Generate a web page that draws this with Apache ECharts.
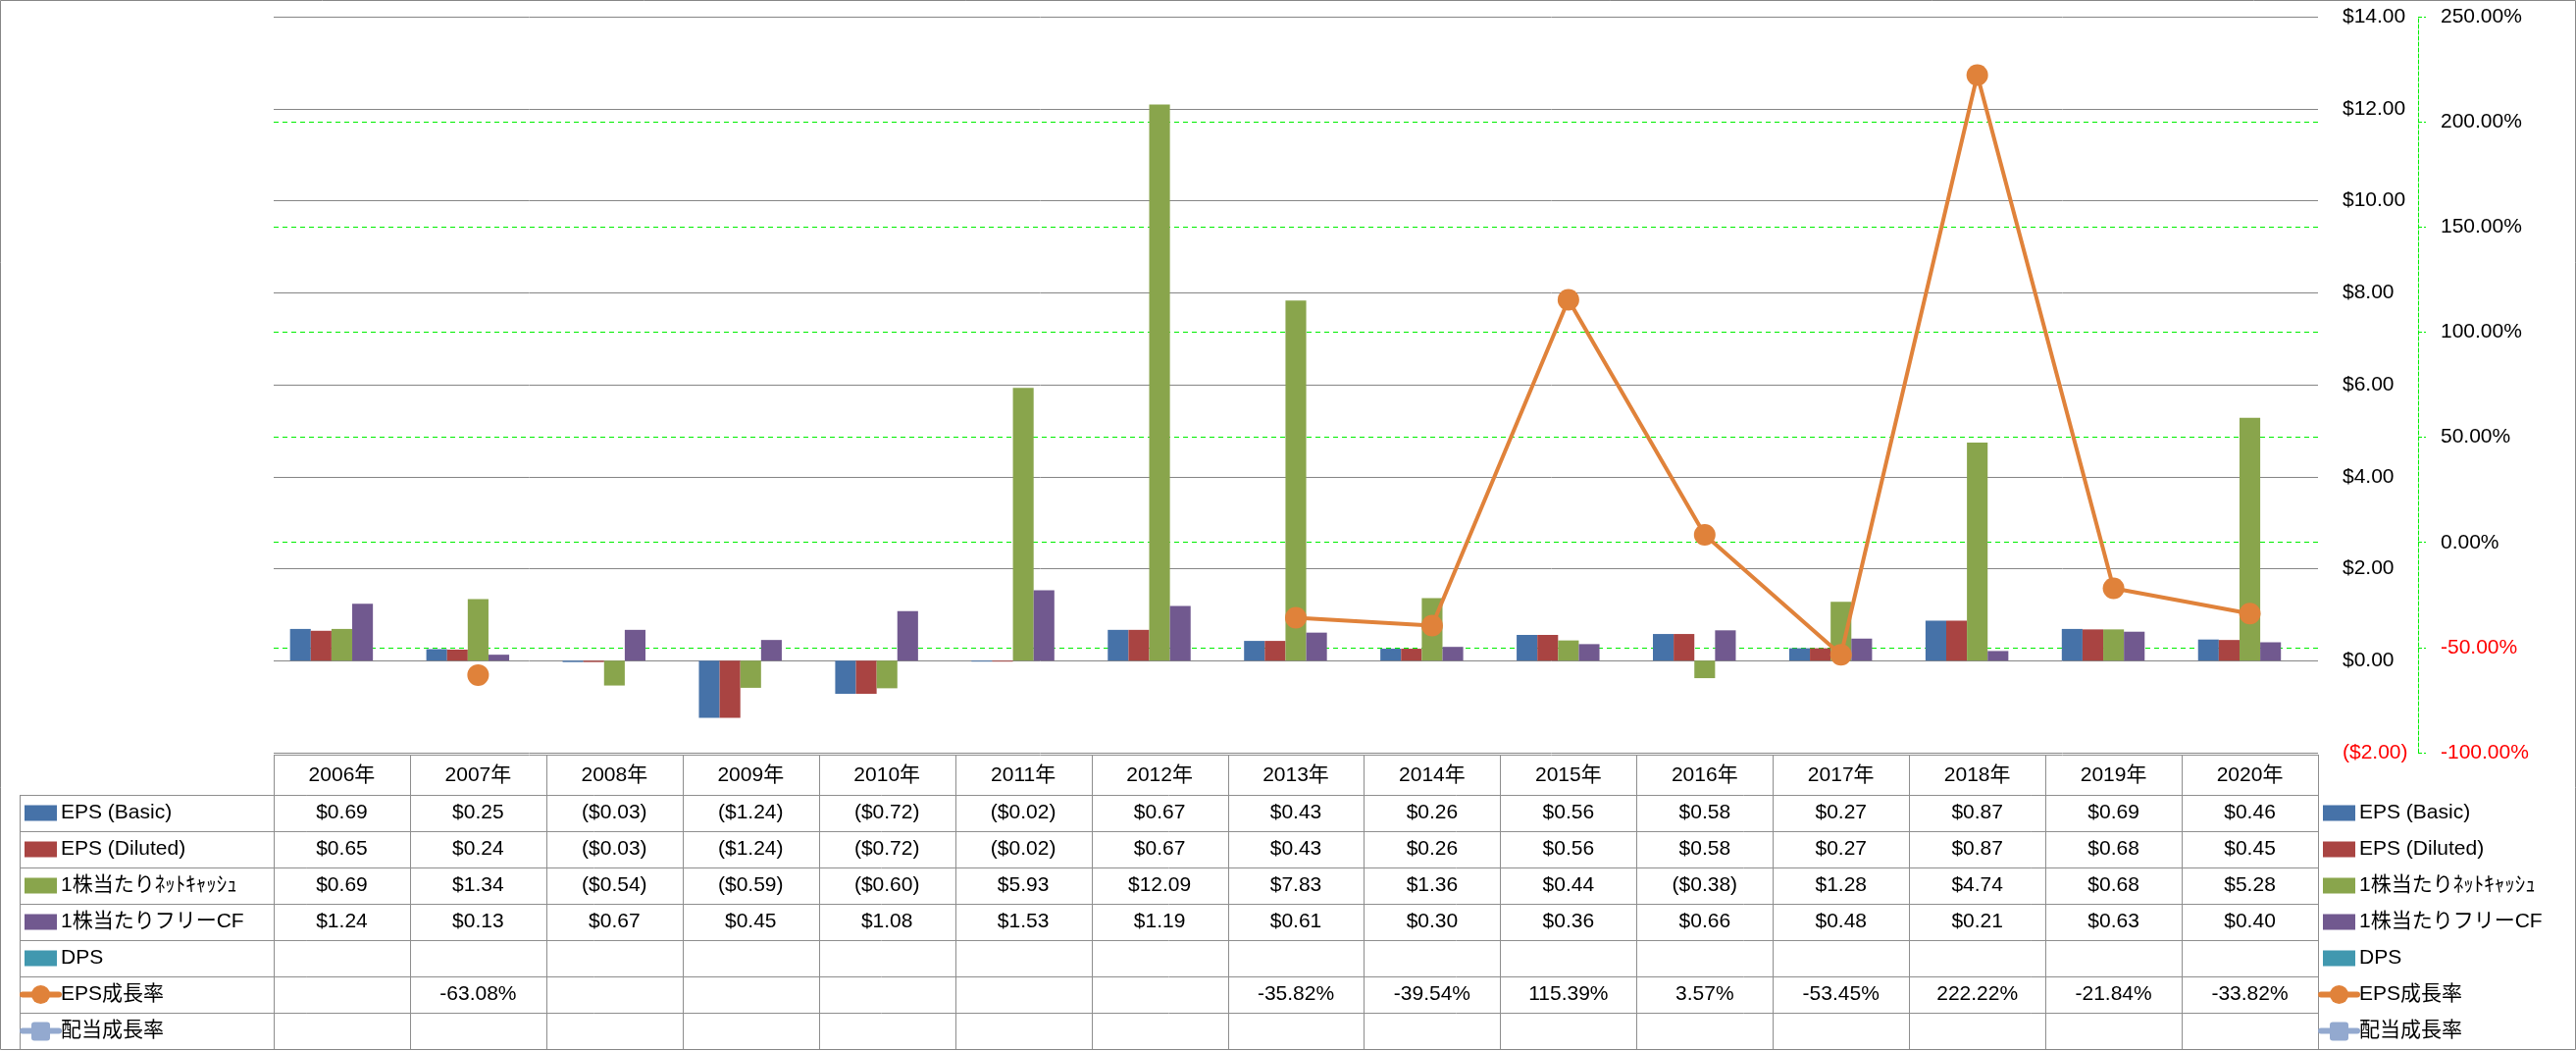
<!DOCTYPE html>
<html><head><meta charset="utf-8">
<script src="https://cdn.jsdelivr.net/npm/echarts@6/dist/echarts.min.js"></script>
<style>html,body{margin:0;padding:0;background:#fff}#c{width:2626px;height:1071px}</style>
</head><body><div id="c"></div>
<script>
const years = ['2006年','2007年','2008年','2009年','2010年','2011年','2012年','2013年','2014年','2015年','2016年','2017年','2018年','2019年','2020年'];
const epsBasic   = [0.69,0.25,-0.03,-1.24,-0.72,-0.02,0.67,0.43,0.26,0.56,0.58,0.27,0.87,0.69,0.46];
const epsDiluted = [0.65,0.24,-0.03,-1.24,-0.72,-0.02,0.67,0.43,0.26,0.56,0.58,0.27,0.87,0.68,0.45];
const netCash    = [0.69,1.34,-0.54,-0.59,-0.60,5.93,12.09,7.83,1.36,0.44,-0.38,1.28,4.74,0.68,5.28];
const freeCF     = [1.24,0.13,0.67,0.45,1.08,1.53,1.19,0.61,0.30,0.36,0.66,0.48,0.21,0.63,0.40];
const dps        = [null,null,null,null,null,null,null,null,null,null,null,null,null,null,null];
const epsGrowth  = [null,-63.08,null,null,null,null,null,-35.82,-39.54,115.39,3.57,-53.45,222.22,-21.84,-33.82];
const divGrowth  = [null,null,null,null,null,null,null,null,null,null,null,null,null,null,null];
const seriesNames = ['EPS (Basic)','EPS (Diluted)','1株当たりﾈｯﾄｷｬｯｼｭ','1株当たりフリーCF','DPS','EPS成長率','配当成長率'];
const dollarAxis = {min:-2, max:14, interval:2};
const pctAxis = {min:-100, max:250, interval:50};

const colors = ['#4672A8','#A94442','#89A54C','#71598F','#4198AF','#E0823A','#93A9CF'];
const FONT = "'Liberation Sans','Noto Sans CJK JP',sans-serif";
const FS = 21;
const GRID = {left:279, right:263, top:17, bottom:304};

const fmtDollar = v => v == null ? '' : (v < 0 ? '($' + Math.abs(v).toFixed(2) + ')' : '$' + v.toFixed(2));
const fmtPct = v => v == null ? '' : v.toFixed(2) + '%';

const chart = echarts.init(document.getElementById('c'), null, {renderer:'canvas'});
const barSeries = [epsBasic, epsDiluted, netCash, freeCF, dps].map((d,i)=>({
  name: seriesNames[i], type:'bar', yAxisIndex:0, data:d,
  barGap:'0%', barCategoryGap:'24%',
  itemStyle:{color:colors[i]}
}));
const lineSeries = [epsGrowth, divGrowth].map((d,i)=>({
  name: seriesNames[5+i], type:'line', yAxisIndex:1, data:d, connectNulls:false,
  symbol: i===0 ? 'circle' : 'roundRect', symbolSize:22, showAllSymbol:true,
  lineStyle:{color:colors[5+i], width:4}, itemStyle:{color:colors[5+i]}, z:5
}));

chart.setOption({
  animation:false,
  backgroundColor:'#ffffff',
  textStyle:{fontFamily:FONT},
  grid:{left:GRID.left, right:GRID.right, top:GRID.top, bottom:GRID.bottom, containLabel:false},
  xAxis:{type:'category', data:years, boundaryGap:true,
    axisLine:{show:false}, axisTick:{show:false}, axisLabel:{show:false}, splitLine:{show:false}},
  yAxis:[
    {type:'value', min:dollarAxis.min, max:dollarAxis.max, interval:dollarAxis.interval, position:'right',
     axisLine:{show:false}, axisTick:{show:false},
     axisLabel:{margin:25, fontSize:FS, fontFamily:FONT, formatter:fmtDollar,
       color:(v)=> Number(v) < 0 ? '#FF0000' : '#000000'},
     splitLine:{show:true, lineStyle:{color:'#868686', width:1}}},
    {type:'value', min:pctAxis.min, max:pctAxis.max, interval:pctAxis.interval, position:'right', offset:102,
     axisLine:{show:true, lineStyle:{color:'#00EE00', type:'dashed', width:1}},
     axisTick:{show:true, length:8, lineStyle:{color:'#00EE00', type:'dashed'}},
     axisLabel:{margin:23, fontSize:FS, fontFamily:FONT, formatter:fmtPct,
       color:(v)=> Number(v) < 0 ? '#FF0000' : '#000000'},
     splitLine:{show:true, showMinLine:false, showMaxLine:false, lineStyle:{color:'#00EE00', type:[5,4], width:1}}}
  ],
  series: barSeries.concat(lineSeries)
});

// ---- data table (below the plot) & legend, positioned from the category axis ----
const rowsData = [epsBasic.map(fmtDollar), epsDiluted.map(fmtDollar), netCash.map(fmtDollar), freeCF.map(fmtDollar),
  dps.map(fmtDollar), epsGrowth.map(fmtPct), divGrowth.map(fmtPct)];
const headTop = 769, headBot = 810, rowH = 37, tableLeft = 20;
const c0 = chart.convertToPixel({xAxisIndex:0}, 0);
const c1 = chart.convertToPixel({xAxisIndex:0}, 1);
const band = c1 - c0;
const colLeft = c0 - band/2;
const colRight = chart.convertToPixel({xAxisIndex:0}, years.length-1) + band/2;
const tableBot = headBot + rowH*7;
const LC = '#8E8E8E';
const g = [];
const hline = (x1,x2,y)=>g.push({type:'line', shape:{x1:x1,y1:y+0.5,x2:x2,y2:y+0.5}, style:{stroke:LC, lineWidth:1}, silent:true});
const vline = (x,y1,y2)=>g.push({type:'line', shape:{x1:Math.round(x)+0.5,y1:y1,x2:Math.round(x)+0.5,y2:y2}, style:{stroke:LC, lineWidth:1}, silent:true});
const txt = (x,y,s,align)=>g.push({type:'text', x:x, y:y, silent:true,
  style:{text:s, fontSize:FS, fontFamily:FONT, fill:'#000', align:align||'center', verticalAlign:'middle'}});

hline(colLeft, colRight, headTop);
for (let k=0;k<=7;k++) hline(tableLeft, colRight, headBot + k*rowH);
vline(tableLeft, headBot, tableBot);
for (let i=0;i<=years.length;i++) vline(colLeft + i*band, headTop, tableBot);
years.forEach((y,i)=>txt(c0 + i*band, (headTop+headBot)/2 + 1, y));
rowsData.forEach((row,k)=>{
  const cy = headBot + k*rowH + rowH/2;
  row.forEach((s,i)=>{ if (s) txt(c0 + i*band, cy, s); });
});

function legendKey(x, cy, k){
  const col = colors[k];
  if (k < 5) {
    g.push({type:'rect', shape:{x:x, y:cy-8, width:33, height:16}, style:{fill:col}, silent:true});
  } else {
    g.push({type:'line', shape:{x1:x-2, y1:cy, x2:x+35, y2:cy}, style:{stroke:col, lineWidth:6, lineCap:'round'}, silent:true});
    if (k === 5) g.push({type:'circle', shape:{cx:x+16.5, cy:cy, r:9.5}, style:{fill:col}, silent:true});
    else g.push({type:'rect', shape:{x:x+7, y:cy-9, width:19, height:19, r:3}, style:{fill:col}, silent:true});
  }
}
seriesNames.forEach((n,k)=>{
  const cy = headBot + k*rowH + rowH/2;
  legendKey(25, cy, k);
  txt(62, cy, n, 'left');
  legendKey(colRight + 5, cy, k);
  txt(colRight + 42, cy, n, 'left');
});
// outer chart border
g.push({type:'rect', shape:{x:0.5, y:0.5, width:2625, height:1069}, style:{fill:'none', stroke:'#868686', lineWidth:1}, silent:true});

chart.setOption({graphic:{elements:g}});
</script>
</body></html>
